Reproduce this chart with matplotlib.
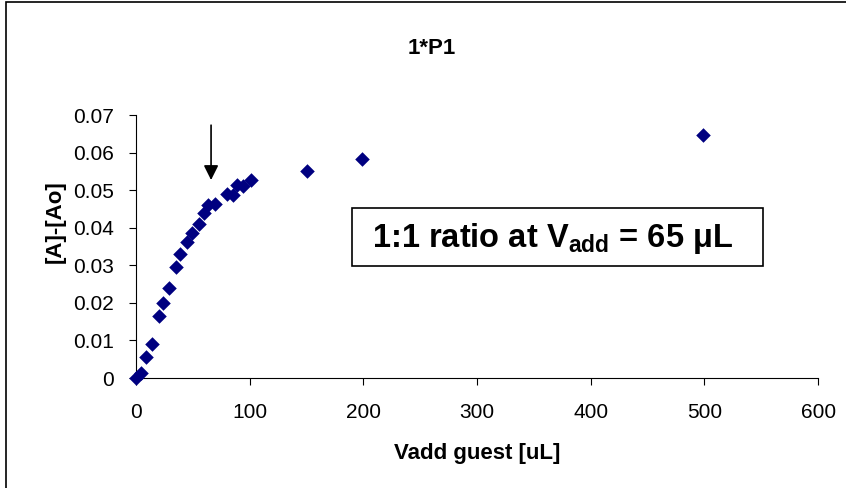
import matplotlib
matplotlib.use("Agg")
import matplotlib.pyplot as plt
from matplotlib.patches import Rectangle

plt.rcParams['font.family'] = ['Liberation Sans', 'DejaVu Sans']
plt.rcParams['mathtext.fontset'] = 'custom'
plt.rcParams['mathtext.rm'] = 'Liberation Sans'
plt.rcParams['mathtext.bf'] = 'Liberation Sans:bold'

vadd = [0, 4, 9, 14, 20, 24, 29, 35, 39, 45, 49, 55, 60, 63.5, 69.5,
        80, 85, 88.5, 94, 101, 150, 199, 499]
dA = [0.0, 0.0013, 0.0055, 0.0091, 0.0165, 0.0199, 0.0240, 0.0296, 0.0330,
      0.0361, 0.0385, 0.0409, 0.0438, 0.0460, 0.0464, 0.0491, 0.0487, 0.0513,
      0.0510, 0.0527, 0.0550, 0.0582, 0.0648]

xticks = [0, 100, 200, 300, 400, 500, 600]
yticks = [0, 0.01, 0.02, 0.03, 0.04, 0.05, 0.06, 0.07]
ytick_labels = ['0', '0.01', '0.02', '0.03', '0.04', '0.05', '0.06', '0.07']

title = '1*P1'
xlabel = 'Vadd guest [uL]'
ylabel = '[A]-[Ao]'
annot = '1:1 ratio at V$_{\\mathbf{add}}$ = 65 \u03bcL'
arrow_x = 66
arrow_y_top = 0.0673
arrow_y_tip = 0.0527

W, H = 846, 488
fig = plt.figure(figsize=(W / 100, H / 100), dpi=100)
ax = fig.add_axes([0.1608, 0.2254, 0.8062, 0.5389])

ax.scatter(vadd, dA, marker='D', s=55, color='#000080', zorder=3, linewidths=0)

ax.set_xlim(0, 600)
ax.set_ylim(0, 0.07)
ax.set_xticks(xticks)
ax.set_xticklabels([str(t) for t in xticks])
ax.set_yticks(yticks)
ax.set_yticklabels(ytick_labels)
ax.tick_params(direction='out', length=5, width=0.8, labelsize=15)
ax.tick_params(axis='x', pad=13)
ax.tick_params(axis='y', pad=11)
for s in ['top', 'right']:
    ax.spines[s].set_visible(False)
for s in ['left', 'bottom']:
    ax.spines[s].set_linewidth(0.8)
for c in ax.collections:
    c.set_clip_on(False)

fig.text(477 / W, 1 - 453 / H, xlabel, fontsize=16, fontweight='bold',
         ha='center', va='center')
fig.text(55 / W, 1 - 222 / H, ylabel, fontsize=16, fontweight='bold',
         ha='center', va='center', rotation=90)
fig.text(432 / W, 1 - 48 / H, title, fontsize=16, fontweight='bold',
         ha='center', va='center')

ax.annotate('', xy=(arrow_x, arrow_y_tip), xytext=(arrow_x, arrow_y_top),
            arrowprops=dict(arrowstyle='-|>', color='black', lw=1.2,
                            mutation_scale=22, shrinkA=0, shrinkB=0))

fig.patches.append(Rectangle((352 / W, 1 - 266 / H), (763 - 352) / W, (266 - 208) / H,
                             transform=fig.transFigure, facecolor='white',
                             edgecolor='black', lw=1.2, zorder=4))
fig.text(553 / W, 1 - 239 / H, annot, fontsize=23.5, fontweight='bold',
         ha='center', va='center', zorder=5)

fig.patches.append(Rectangle((6 / W, -0.1), 1.2, 1 - 2 / H + 0.1,
                             transform=fig.transFigure,
                             fill=False, edgecolor='black', lw=1.2))

fig.savefig('out.png', dpi=100)
